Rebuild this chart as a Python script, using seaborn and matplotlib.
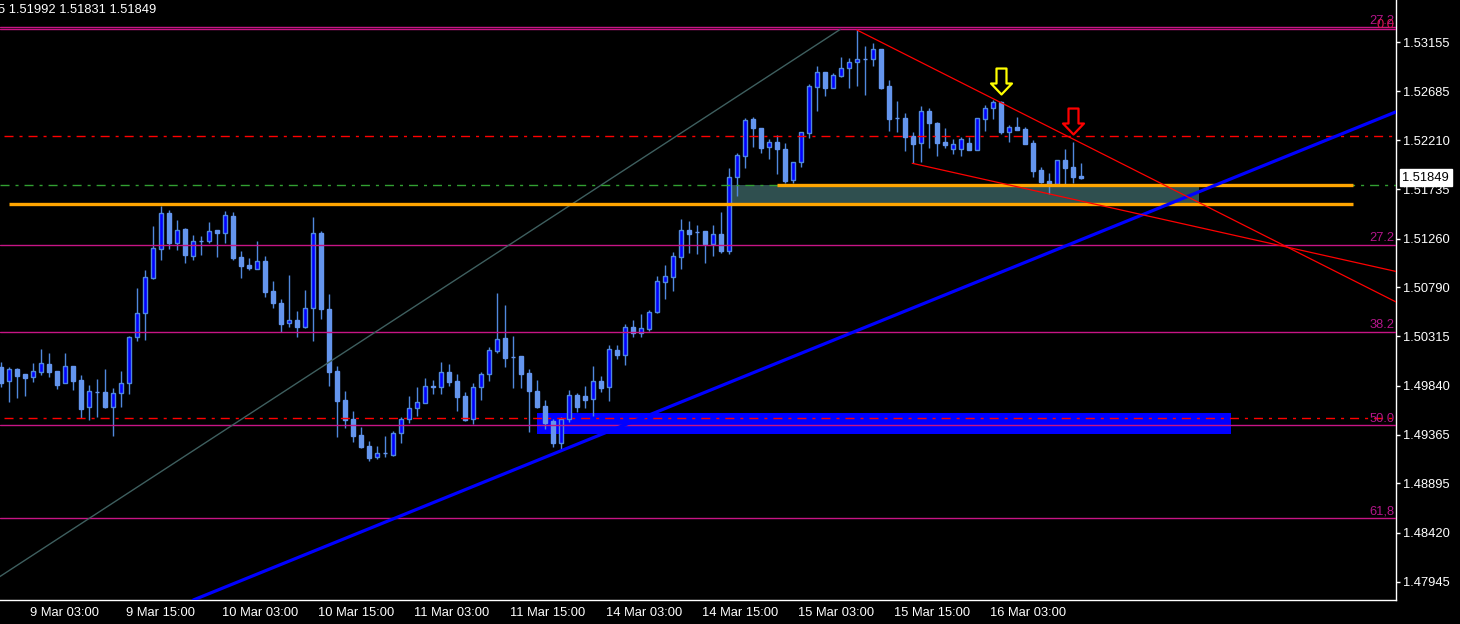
import matplotlib
matplotlib.use("Agg")
import numpy as np
import pandas as pd
import matplotlib.pyplot as plt
import seaborn as sns
from matplotlib.path import Path
from matplotlib.patches import Rectangle
from matplotlib.transforms import blended_transform_factory, ScaledTranslation

# ---------------- data (H1 candles) ----------------
open_ = [1.50016, 1.49887, 1.49997, 1.49949, 1.49926, 1.49974, 1.50048, 1.49978, 1.49862, 1.50026,
         1.49891, 1.49630, 1.49778, 1.49778, 1.49636, 1.49765, 1.49862, 1.50306, 1.50538, 1.50879,
         1.51156, 1.51504, 1.51220, 1.51349, 1.51094, 1.51233, 1.51239, 1.51340, 1.51316, 1.51478,
         1.51082, 1.51004, 1.50969, 1.51043, 1.50753, 1.50637, 1.50441, 1.50473, 1.50408, 1.50586,
         1.51314, 1.50577, 1.49981, 1.49700, 1.49517, 1.49362, 1.49256, 1.49147, 1.49186, 1.49166,
         1.49379, 1.49514, 1.49620, 1.49674, 1.49839, 1.49823, 1.49968, 1.49884, 1.49739, 1.49514,
         1.49823, 1.49949, 1.50177, 1.50299, 1.50119, 1.50125, 1.49961, 1.49787, 1.49642, 1.49498,
         1.49288, 1.49514, 1.49746, 1.49736, 1.49707, 1.49881, 1.49829, 1.50183, 1.50138, 1.50403,
         1.50345, 1.50383, 1.50548, 1.50843, 1.50891, 1.51084, 1.51340, 1.51326, 1.51333, 1.51207,
         1.51304, 1.51143, 1.51852, 1.52060, 1.52415, 1.52328, 1.52141, 1.52192, 1.52125, 1.51823,
         1.52002, 1.52282, 1.52727, 1.52866, 1.52717, 1.52833, 1.52904, 1.52962, 1.52991, 1.52991,
         1.53088, 1.52733, 1.52421, 1.52424, 1.52250, 1.52186, 1.52492, 1.52376, 1.52192, 1.52122,
         1.52125, 1.52183, 1.52118, 1.52418, 1.52518, 1.52576, 1.52292, 1.52334, 1.52318, 1.52180,
         1.51919, 1.51816, 1.51787, 1.52016, 1.51951, 1.51867]
high = [1.50064, 1.50022, 1.50007, 1.49949, 1.50058, 1.50193, 1.50154, 1.49978, 1.50154, 1.50026,
        1.49942, 1.49845, 1.49903, 1.50000, 1.49813, 1.49981, 1.50322, 1.50782, 1.50956, 1.51381,
        1.51574, 1.51536, 1.51439, 1.51359, 1.51294, 1.51284, 1.51420, 1.51340, 1.51523, 1.51516,
        1.51140, 1.51072, 1.51236, 1.51091, 1.50850, 1.50676, 1.50905, 1.50560, 1.50763, 1.51468,
        1.51333, 1.50724, 1.50032, 1.49787, 1.49594, 1.49437, 1.49304, 1.49253, 1.49353, 1.49401,
        1.49536, 1.49739, 1.49826, 1.49913, 1.49894, 1.50067, 1.50048, 1.49952, 1.49775, 1.49865,
        1.49974, 1.50212, 1.50734, 1.50618, 1.50319, 1.50125, 1.50000, 1.49894, 1.49698, 1.49517,
        1.49533, 1.49797, 1.49765, 1.49836, 1.50029, 1.49932, 1.50232, 1.50232, 1.50435, 1.50473,
        1.50531, 1.50570, 1.50898, 1.51005, 1.51127, 1.51449, 1.51429, 1.51391, 1.51333, 1.51391,
        1.51519, 1.51938, 1.52089, 1.52427, 1.52431, 1.52328, 1.52219, 1.52257, 1.52180, 1.51996,
        1.52292, 1.52753, 1.52927, 1.52866, 1.52856, 1.53013, 1.53001, 1.53274, 1.53120, 1.53149,
        1.53088, 1.52791, 1.52588, 1.52472, 1.52292, 1.52540, 1.52518, 1.52386, 1.52328, 1.52221,
        1.52244, 1.52244, 1.52421, 1.52550, 1.52598, 1.52588, 1.52357, 1.52434, 1.52340, 1.52212,
        1.51951, 1.51893, 1.52016, 1.52125, 1.52192, 1.51992]
low = [1.49823, 1.49684, 1.49723, 1.49742, 1.49877, 1.49942, 1.49926, 1.49807, 1.49862, 1.49797,
       1.49524, 1.49507, 1.49536, 1.49626, 1.49353, 1.49636, 1.49761, 1.50273, 1.50283, 1.50872,
       1.51056, 1.51162, 1.51149, 1.51027, 1.51056, 1.51104, 1.51214, 1.51084, 1.51214, 1.51056,
       1.50882, 1.50959, 1.50963, 1.50698, 1.50592, 1.50357, 1.50406, 1.50312, 1.50399, 1.50273,
       1.50486, 1.49839, 1.49346, 1.49433, 1.49298, 1.49237, 1.49114, 1.49133, 1.49147, 1.49160,
       1.49288, 1.49481, 1.49549, 1.49674, 1.49758, 1.49761, 1.49839, 1.49594, 1.49498, 1.49466,
       1.49700, 1.49884, 1.50152, 1.50022, 1.49819, 1.49819, 1.49394, 1.49620, 1.49420, 1.49249,
       1.49227, 1.49491, 1.49587, 1.49620, 1.49549, 1.49781, 1.49691, 1.50099, 1.50039, 1.50312,
       1.50306, 1.50367, 1.50538, 1.50679, 1.50753, 1.50966, 1.51117, 1.51111, 1.51027, 1.51091,
       1.51123, 1.51114, 1.51674, 1.51944, 1.52147, 1.52083, 1.52031, 1.51886, 1.51794, 1.51799,
       1.51954, 1.52228, 1.52495, 1.52640, 1.52711, 1.52817, 1.52717, 1.52736, 1.52649, 1.52929,
       1.52701, 1.52302, 1.52292, 1.52108, 1.51987, 1.52002, 1.52137, 1.52060, 1.52132, 1.52077,
       1.52060, 1.52115, 1.52118, 1.52302, 1.52418, 1.52270, 1.52195, 1.52308, 1.52176, 1.51857,
       1.51794, 1.51690, 1.51787, 1.51787, 1.51794, 1.51831]
close = [1.49862, 1.49997, 1.49935, 1.49916, 1.49978, 1.50055, 1.49974, 1.49848, 1.50026, 1.49887,
         1.49616, 1.49784, 1.49775, 1.49636, 1.49765, 1.49862, 1.50306, 1.50538, 1.50886, 1.51166,
         1.51504, 1.51220, 1.51340, 1.51104, 1.51233, 1.51233, 1.51330, 1.51316, 1.51484, 1.51072,
         1.50998, 1.50978, 1.51043, 1.50747, 1.50640, 1.50437, 1.50470, 1.50408, 1.50586, 1.51311,
         1.50579, 1.49974, 1.49691, 1.49507, 1.49353, 1.49246, 1.49143, 1.49186, 1.49186, 1.49379,
         1.49514, 1.49620, 1.49678, 1.49833, 1.49823, 1.49968, 1.49877, 1.49732, 1.49507, 1.49823,
         1.49949, 1.50181, 1.50290, 1.50109, 1.50119, 1.49954, 1.49790, 1.49636, 1.49481, 1.49288,
         1.49514, 1.49746, 1.49636, 1.49700, 1.49881, 1.49819, 1.50190, 1.50135, 1.50403, 1.50345,
         1.50393, 1.50548, 1.50847, 1.50898, 1.51091, 1.51340, 1.51304, 1.51326, 1.51207, 1.51301,
         1.51140, 1.51852, 1.52067, 1.52405, 1.52325, 1.52137, 1.52190, 1.52122, 1.51819, 1.51996,
         1.52286, 1.52730, 1.52866, 1.52717, 1.52837, 1.52904, 1.52962, 1.52991, 1.52991, 1.53088,
         1.52717, 1.52418, 1.52421, 1.52244, 1.52176, 1.52492, 1.52373, 1.52186, 1.52163, 1.52173,
         1.52219, 1.52118, 1.52421, 1.52518, 1.52576, 1.52292, 1.52334, 1.52308, 1.52176, 1.51915,
         1.51806, 1.51787, 1.52016, 1.51944, 1.51857, 1.51849]

tick_bars = [4, 16, 28, 40, 52, 64, 76, 88, 100, 112, 124]
tick_labels = ["9 Mar 03:00", "9 Mar 15:00", "10 Mar 03:00", "10 Mar 15:00", "11 Mar 03:00",
               "11 Mar 15:00", "14 Mar 03:00", "14 Mar 15:00", "15 Mar 03:00", "15 Mar 15:00",
               "16 Mar 03:00"]
price_ticks = [1.53155, 1.52685, 1.52210, 1.51735, 1.51260, 1.50790,
               1.50315, 1.49840, 1.49365, 1.48895, 1.48420, 1.47945]
header_text = "5 1.51992 1.51831 1.51849"

# Fibonacci object
fib_high = 1.53280
fib_low = 1.45638
fib_high_bar = 104.9
fib_low_bar = -47.0
fib_levels = [0.0, 27.2, 38.2, 50.0, 61.8]
fib_texts = ["0.0", "27.2", "38.2", "50.0", "61,8"]
extra_fib_price = 1.53300
extra_fib_text = "27.2"

# horizontal objects
dashdot_red = [1.52248, 1.49524]
green_level = 1.51777
orange_levels = [1.51777, 1.51594]
orange_start = [97, 1]
orange_end = [169, 169]
zone_green = (91, 149.75, 1.51594, 1.51777)
zone_blue = (67, 153.75, 1.49372, 1.49575)

# trend lines (bar, price) anchors
blue_trend = [(69, 1.49179), (160, 1.52033)]
red_trend_1 = [(107, 1.53274), (137.4, 1.52089)]
red_trend_2 = [(113.9, 1.51987), (137.4, 1.51581)]

# arrows
arrow_bars = [125, 134]
arrow_prices = [1.52656, 1.52270]
arrow_colors = ["#FFFF00", "#FF0000"]

# ---------------- styling ----------------
sns.set_theme(style="dark", rc={"axes.facecolor": "black", "figure.facecolor": "black",
                                "axes.grid": False, "axes.edgecolor": "white"})
plt.rcParams["font.family"] = ["Liberation Sans", "DejaVu Sans"]
FS = 9.3

W, H = 1460, 624
fig = plt.figure(figsize=(W / 100, H / 100), dpi=100)
fig.patch.set_facecolor("black")
ax = fig.add_axes([0, 24 / H, 1396 / W, 600 / H])
ax.set_facecolor("black")
XMIN, XMAX = -0.125, 174.375
ax.set_xlim(XMIN, XMAX)
ax.set_ylim(1.47769, 1.53564)

df = pd.DataFrame({"open": open_, "high": high, "low": low, "close": close})
df["bar"] = np.arange(len(df))
bull = df["close"] > df["open"]
body_lo = np.minimum(df["open"], df["close"])
body_h = (df["close"] - df["open"]).abs()

WICK = "#5088DC"
BULL_FILL = "#0000FF"
BEAR_FILL = "#6495ED"

# background rectangles
for (x0, x1, p0, p1), col in [(zone_green, "#2F4F4F"), (zone_blue, "#0000FF")]:
    ax.add_patch(Rectangle((x0, p0), x1 - x0, p1 - p0, facecolor=col, edgecolor="none", zorder=1))

# candles
ax.vlines(df["bar"], df["low"], df["high"], color=WICK, lw=1.0, zorder=2)
ax.bar(df["bar"][bull], body_h[bull], bottom=body_lo[bull], width=0.55,
       color=BULL_FILL, edgecolor=WICK, linewidth=1.0, zorder=3)
ax.bar(df["bar"][~bull], body_h[~bull], bottom=body_lo[~bull], width=0.55,
       color=BEAR_FILL, edgecolor=BEAR_FILL, linewidth=1.0, zorder=3)

# fib lines
FIB_COL = "#C71585"
LBL_COL = "#B4168A"
rng = fib_high - fib_low
btr = blended_transform_factory(ax.transAxes, ax.transData)
for lvl, txt in zip(fib_levels, fib_texts):
    p = fib_high - rng * lvl / 100.0
    ax.axhline(p, color=FIB_COL, lw=1.0, zorder=4)
    if lvl > 0:
        ax.text(0.9992, p + 0.00004, txt, transform=btr,
                ha="right", va="bottom", color=LBL_COL, fontsize=FS, zorder=6)
ax.axhline(extra_fib_price, color=FIB_COL, lw=1.0, zorder=4)
ax.text(0.9992, extra_fib_price + 0.00002, extra_fib_text, transform=btr,
        ha="right", va="bottom", color=LBL_COL, fontsize=FS, zorder=6)
ax.text(0.9992, fib_high - 0.00016, fib_texts[0], transform=btr,
        ha="right", va="bottom", color="#DC1450", fontsize=FS, zorder=6)
# fib diagonal
ax.plot([fib_low_bar, fib_high_bar], [fib_low, fib_high], color="#3E5F5F", lw=1.0, zorder=4)

# dash-dot lines
DD = (6.5, 4.3, 2.2, 4.3)
for p in dashdot_red:
    ax.plot([0.4, XMAX], [p, p], color="#FF0000", lw=1.0, dashes=DD, zorder=4)
ax.plot([XMIN, XMAX], [green_level, green_level], color="#32A032", lw=1.0, dashes=DD, zorder=4)

# orange levels
for p, s, e in zip(orange_levels, orange_start, orange_end):
    ax.plot([s, e], [p, p], color="#FFA500", lw=2.4, solid_capstyle="butt", zorder=5)

# trend lines
ax.axline(blue_trend[0], blue_trend[1], color="#0000FF", lw=2.3, zorder=5)
for (b0, p0), (b1, p1) in [red_trend_1, red_trend_2]:
    slope = (p1 - p0) / (b1 - b0)
    ax.plot([b0, XMAX], [p0, p0 + slope * (XMAX - b0)], color="#FF0000", lw=0.9, zorder=5)

# arrows (hollow down arrows, tip at the given price)
verts = [(0, 0), (10.5, 11), (5, 11), (5, 26), (-5, 26), (-5, 11), (-10.5, 11), (0, 0)]
codes = [Path.MOVETO] + [Path.LINETO] * 6 + [Path.CLOSEPOLY]
arrow_path = Path(verts, codes)
for b, p, c in zip(arrow_bars, arrow_prices, arrow_colors):
    ax.plot([b], [p], marker=arrow_path, markersize=37.4, markerfacecolor="black",
            markeredgecolor=c, markeredgewidth=1.6, linestyle="none", zorder=7)

# axes cosmetics
for s in ["top", "left"]:
    ax.spines[s].set_visible(False)
for s in ["right", "bottom"]:
    ax.spines[s].set_color("white")
    ax.spines[s].set_linewidth(1.0)
ax.yaxis.tick_right()
ax.set_yticks(price_ticks)
ax.set_yticklabels([f"{v:.5f}" for v in price_ticks])
ax.set_xticks(tick_bars)
ax.set_xticklabels(tick_labels, ha="left")
ax.tick_params(axis="y", colors="white", length=3, width=1, pad=2.0, labelsize=FS, direction="out")
ax.tick_params(axis="x", colors="white", length=3, width=1, pad=2, labelsize=FS, direction="out")
shift = ScaledTranslation(-2.5 / 100, 0, fig.dpi_scale_trans)
for t in ax.xaxis.get_major_ticks():
    t.label1.set_transform(t.label1.get_transform() + shift)

# current price box
ax.annotate(f"{close[-1]:.5f}", xy=(1.0, close[-1]), xycoords=("axes fraction", "data"),
            xytext=(4.5, 0), textcoords="offset points", ha="left", va="center",
            color="black", fontsize=FS, annotation_clip=False, zorder=10,
            bbox=dict(boxstyle="square,pad=0.2", fc="white", ec="white"))

# header text
fig.text(-2.4 / W, 1 - 10 / H, header_text, ha="left", va="center", color="white", fontsize=FS)

fig.savefig("out.png", dpi=100, facecolor="black")
